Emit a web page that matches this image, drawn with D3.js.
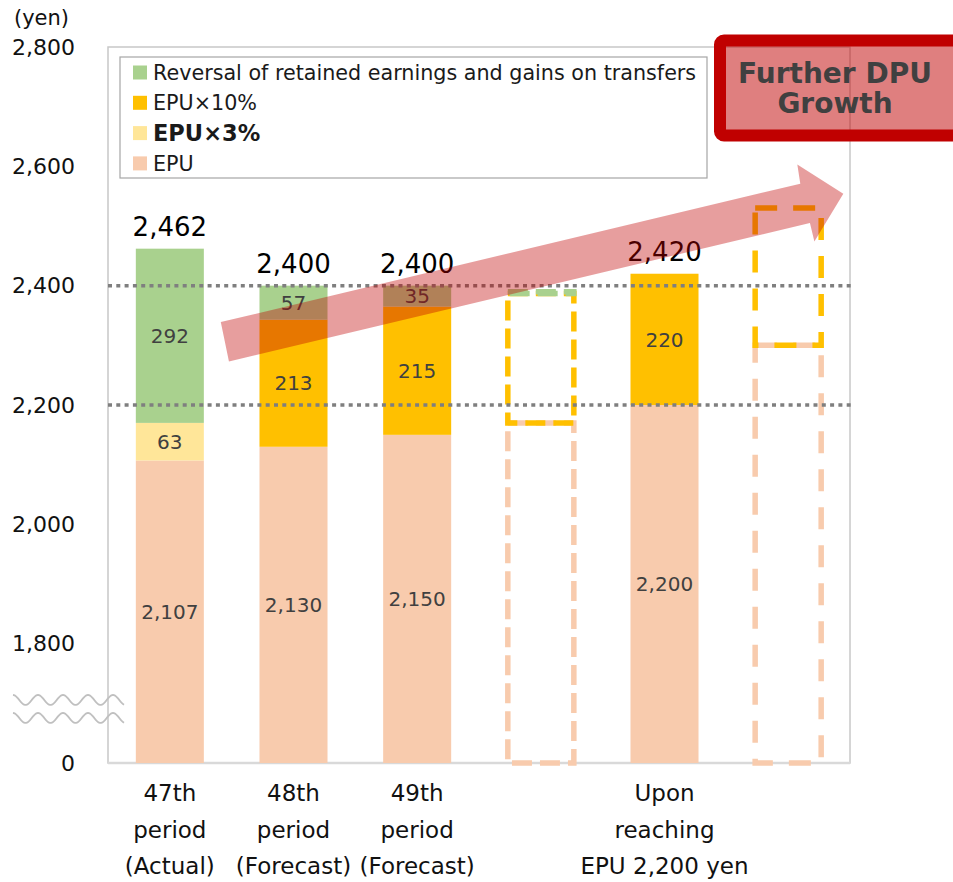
<!DOCTYPE html>
<html><head><meta charset="utf-8">
<script src="https://cdn.jsdelivr.net/npm/d3@7"></script>
<style>
html,body{margin:0;padding:0;background:#fff;}
svg{display:block;font-family:"DejaVu Sans",Verdana,sans-serif;}
</style></head>
<body>
<svg id="chart" width="953" height="882"></svg>
<script>
// ---- data ----
const categories = ["47th", "48th", "49th", "proj1", "upon", "proj2"];
const categoryLabels = [
  ["47th", "period", "(Actual)"],
  ["48th", "period", "(Forecast)"],
  ["49th", "period", "(Forecast)"],
  [],
  ["Upon", "reaching", "EPU 2,200 yen"],
  []
];
const projected = [false, false, false, true, false, true];
const epu = [2107, 2130, 2150, 2170, 2200, 2300];
const epu3 = [63, 0, 0, 0, 0, 0];
const epu10 = [0, 213, 215, 217, 220, 230];
const reversal = [292, 57, 35, 3, 0, 0];
const totals = [2462, 2400, 2400, null, 2420, null];
const yTicks = [1600, 1800, 2000, 2200, 2400, 2600, 2800];
const yTickLabels = ["0", "1,800", "2,000", "2,200", "2,400", "2,600", "2,800"];
const gridValues = [2200, 2400];
const seriesKeys = ["epu", "epu3", "epu10", "reversal"];
const seriesNames = ["EPU", "EPU×3%", "EPU×10%", "Reversal of retained earnings and gains on transfers"];
const seriesColors = ["#f8cbad", "#ffe699", "#ffc000", "#a9d18e"];
// arrow annotation: [fraction of plot width, value]
const arrowPts = [[0.152, 2339], [0.933, 2571], [0.929, 2603], [0.991, 2554], [0.952, 2474], [0.946, 2505], [0.163, 2273]];

// ---- layout ----
const svg = d3.select("#chart");
const L = 108, R = 850, T = 47, B = 763;

const x = d3.scaleBand().domain(categories).range([L, R]).paddingInner(0.45).paddingOuter(0.225);
const y = d3.scaleLinear().domain([1600, 2800]).range([B, T]).clamp(true);

const rows = categories.map((c, i) => ({cat: c, i, epu: epu[i], epu3: epu3[i], epu10: epu10[i], reversal: reversal[i]}));
const stacked = d3.stack().keys(seriesKeys)(rows);

// frame
svg.append("rect").attr("x", L).attr("y", T).attr("width", R - L).attr("height", B - T)
  .attr("fill", "none").attr("stroke", "#c8c8c8").attr("stroke-width", 1.5);
svg.append("line").attr("x1", L).attr("x2", R).attr("y1", B).attr("y2", B)
  .attr("stroke", "#d9d9d9").attr("stroke-width", 2.5);

// bars
const gBars = svg.append("g");
stacked.forEach((layer, k) => {
  layer.forEach((d, i) => {
    if (d[1] - d[0] <= 0) return;
    const x0 = x(categories[i]), w = x.bandwidth();
    const top = y(d[1]), bot = y(d[0]);
    if (!projected[i]) {
      gBars.append("rect").attr("x", x0).attr("y", top).attr("width", w).attr("height", bot - top)
        .attr("fill", seriesColors[k]);
    } else {
      gBars.append("rect").attr("x", x0 + 1).attr("y", top).attr("width", w - 2).attr("height", Math.max(bot - top, 0.5))
        .attr("fill", "none").attr("stroke", seriesColors[k]).attr("stroke-width", 5.5)
        .attr("stroke-dasharray", i === 3 ? "20,8" : "22,16");
    }
  });
});

// gridlines
svg.append("g").selectAll("line").data(gridValues).join("line")
  .attr("x1", L).attr("x2", R + 2).attr("y1", d => y(d)).attr("y2", d => y(d))
  .attr("stroke", "#7f7f7f").attr("stroke-width", 3.5).attr("stroke-dasharray", "4,4.3");

// segment labels
const gLab = svg.append("g").attr("font-size", 20).attr("fill", "#404040").attr("text-anchor", "middle");
stacked.forEach((layer, k) => {
  layer.forEach((d, i) => {
    const v = d[1] - d[0];
    if (v <= 0 || projected[i]) return;
    const mid = (y(d[0]) + y(d[1])) / 2;
    gLab.append("text").attr("x", x(categories[i]) + x.bandwidth() / 2).attr("y", mid)
      .attr("dy", "0.36em").text(d3.format(",")(v));
  });
});

// totals
svg.append("g").selectAll("text").data(totals.map((t, i) => ({t, i})).filter(d => d.t != null)).join("text")
  .attr("x", d => x(categories[d.i]) + x.bandwidth() / 2)
  .attr("y", d => y(d.t) - 13)
  .attr("text-anchor", "middle").attr("font-size", 26).attr("fill", "#000")
  .text(d => d3.format(",")(d.t));

// y axis
const yAxis = d3.axisLeft(y).tickValues(yTicks).tickSize(0).tickPadding(33)
  .tickFormat((d, i) => yTickLabels[i]);
const gy = svg.append("g").attr("transform", `translate(${L},0)`).call(yAxis);
gy.select(".domain").remove();
gy.selectAll("text").attr("font-size", 22).attr("fill", "#111").attr("font-family", "DejaVu Sans");

svg.append("text").attr("x", 14).attr("y", 25).attr("font-size", 21).attr("fill", "#111").text("(yen)");

// axis break waves
[700, 718].forEach(cy => {
  const pts = d3.range(13, 125, 1).map(px => [px, cy + 5 * Math.sin((px - 13) / 25 * 2 * Math.PI - Math.PI / 2)]);
  svg.append("path").attr("d", d3.line()(pts)).attr("fill", "none").attr("stroke", "#c0c0c0").attr("stroke-width", 1.8);
});

// x labels
const gx = svg.append("g").attr("font-size", 23).attr("fill", "#111").attr("text-anchor", "middle");
categoryLabels.forEach((lines, i) => {
  lines.forEach((s, j) => {
    gx.append("text").attr("x", x(categories[i]) + x.bandwidth() / 2).attr("y", 793 + j * 36.5)
      .attr("dy", "0.36em").text(s);
  });
});

// legend
const lg = svg.append("g");
lg.append("rect").attr("x", 120).attr("y", 57).attr("width", 587).attr("height", 121)
  .attr("fill", "#fff").attr("stroke", "#a6a6a6").attr("stroke-width", 1.2);
const legendOrder = [3, 2, 1, 0];
legendOrder.forEach((k, r) => {
  const cy = 72.5 + r * 30.3;
  lg.append("rect").attr("x", 133).attr("y", cy - 7).attr("width", 14).attr("height", 14).attr("fill", seriesColors[k]);
  lg.append("text").attr("x", 153).attr("y", cy).attr("dy", "0.36em")
    .attr("fill", "#1a1a1a").attr("font-weight", k === 1 ? "bold" : "normal")
    .attr("font-size", k === 1 ? 22.5 : 20.7).text(seriesNames[k]);
});

// arrow
const ax = f => L + f * (R - L);
svg.append("path").attr("d", d3.line()(arrowPts.map(p => [ax(p[0]), y(p[1])])) + "Z")
  .attr("fill", "#c00000").attr("fill-opacity", 0.38);

// Further DPU Growth box
svg.append("rect").attr("x", 720).attr("y", 40.5).attr("width", 300).attr("height", 95)
  .attr("rx", 4).attr("fill", "#c00000").attr("fill-opacity", 0.5)
  .attr("stroke", "#c00000").attr("stroke-width", 12);
const bt = svg.append("g").attr("font-size", 28).attr("font-weight", "bold").attr("fill", "#404040").attr("text-anchor", "middle");
bt.append("text").attr("x", 835).attr("y", 73).attr("dy", "0.36em").text("Further DPU");
bt.append("text").attr("x", 835).attr("y", 103).attr("dy", "0.36em").text("Growth");
</script>
</body></html>
